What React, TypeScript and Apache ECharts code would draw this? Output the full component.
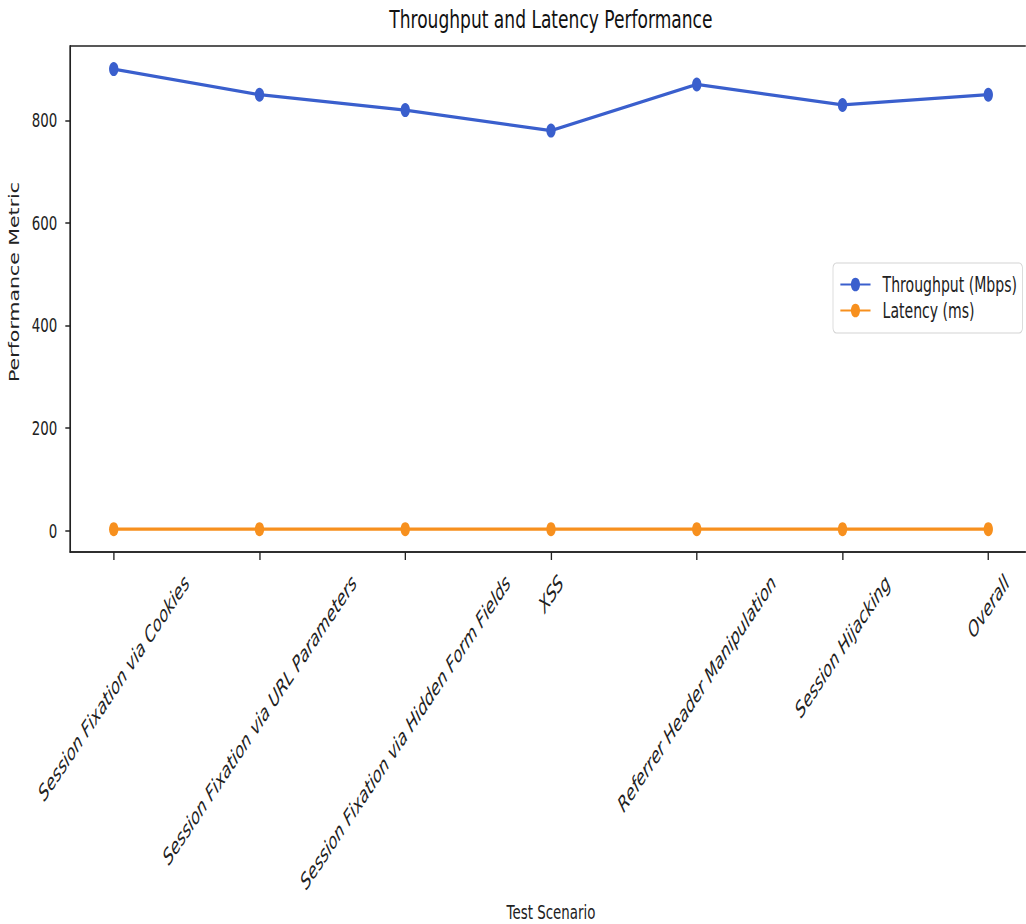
import React, { useEffect, useRef } from "react";
import * as echarts from "echarts";

// Test scenarios on the x axis
const scenarios = [
  "Session Fixation via Cookies",
  "Session Fixation via URL Parameters",
  "Session Fixation via Hidden Form Fields",
  "XSS",
  "Referrer Header Manipulation",
  "Session Hijacking",
  "Overall",
];
const throughputMbps = [900, 850, 820, 780, 870, 830, 850];
const latencyMs = [2.5, 2.5, 2.5, 2.5, 2.5, 2.5, 2.5];
const yTicks = [0, 200, 400, 600, 800];
const seriesNames = ["Throughput (Mbps)", "Latency (ms)"];

// The figure is drawn wide and squeezed horizontally into the viewport
const SQUEEZE = 0.67;
const VIEW_W = 1026;
const VIEW_H = 924;
const CHART_W = Math.round(VIEW_W / SQUEEZE);

const FONT = '"DejaVu Sans", Verdana, sans-serif';
const INK = "#222";
const BLUE = "#3a5fcd";
const ORANGE = "#f7901e";

function textWidth(text: string, font: string): number {
  const ctx = document.createElement("canvas").getContext("2d");
  if (!ctx) return text.length * 10;
  ctx.font = font;
  return ctx.measureText(text).width;
}

export default function App() {
  const ref = useRef<HTMLDivElement>(null);

  useEffect(() => {
    if (!ref.current) return;
    const chart = echarts.init(ref.current, null, { renderer: "svg" });

    const px = (x: number) => x / SQUEEZE;
    const plotLeft = px(70);
    const plotWidth = px(962);
    const plotCenter = plotLeft + plotWidth / 2;

    const titleText = "Throughput and Latency Performance";
    const titleSize = 25.5;
    const titleW = textWidth(titleText, `${titleSize}px "DejaVu Sans"`);

    const tickLabelSize = 20;
    const catLabelSize = 21.8;
    const catIdx = scenarios.map((_, i) => i);

    // Rotated labels are centred under their tick: shift each along and
    // across its own direction by a quarter of its length.
    const rich: Record<string, any> = {};
    scenarios.forEach((s, i) => {
      const L = textWidth(s, `italic ${catLabelSize}px "DejaVu Sans"`);
      rich["c" + i] = {
        fontSize: catLabelSize,
        fontStyle: "italic",
        fontFamily: FONT,
        color: INK,
        padding: [L / 2, L / 2, 0, 0],
      };
    });

    const lineSeries = (name: string, values: number[], color: string) => ({
      name,
      type: "line",
      data: values.map((v, i) => [i, v]),
      symbol: "circle",
      symbolSize: 14,
      lineStyle: { color, width: 3.3 },
      itemStyle: { color },
      emphasis: { disabled: true },
    });

    chart.setOption({
      animation: false,
      backgroundColor: "#fff",
      title: {
        text: titleText,
        left: plotCenter - titleW / 2,
        top: 6,
        padding: 0,
        textStyle: {
          fontSize: titleSize,
          fontWeight: "normal",
          fontFamily: FONT,
          color: "#111",
        },
      },
      legend: {
        data: seriesNames,
        orient: "vertical",
        left: px(833),
        top: 263,
        itemWidth: 45,
        itemHeight: 17,
        itemGap: 5,
        padding: [11, 8, 12, 10],
        borderColor: "#d4d4d4",
        borderWidth: 1.2,
        borderRadius: 5,
        backgroundColor: "rgba(255,255,255,0.85)",
        formatter: "{t|{name}}",
        textStyle: {
          fontSize: 21,
          fontFamily: FONT,
          color: INK,
          rich: {
            t: { fontSize: 21, fontFamily: FONT, color: INK, padding: [0, 0, 0, 13] },
          },
        },
      },
      grid: {
        left: plotLeft,
        top: 46,
        width: plotWidth,
        height: 506,
        show: true,
        borderColor: INK,
        borderWidth: 1.5,
        containLabel: false,
        outerBoundsMode: "none",
      },
      xAxis: {
        type: "value",
        min: -0.3,
        max: 6.3,
        name: "Test Scenario",
        nameLocation: "middle",
        nameGap: 350,
        nameTextStyle: { fontSize: 20, fontFamily: FONT, color: INK },
        axisLine: { show: true, onZero: false, lineStyle: { color: INK, width: 1.5 } },
        axisTick: {
          show: true,
          length: 8,
          customValues: catIdx,
          lineStyle: { color: INK, width: 2 },
        },
        axisLabel: {
          customValues: catIdx,
          rotate: 45,
          align: "center",
          verticalAlign: "middle",
          margin: 27,
          formatter: (v: number) => `{c${Math.round(v)}|${scenarios[Math.round(v)]}}`,
          rich,
        },
        splitLine: { show: false },
      },
      yAxis: {
        type: "value",
        min: -42,
        max: 945,
        name: "Performance Metric",
        nameLocation: "middle",
        nameGap: 72,
        nameTextStyle: {
          fontSize: 20.5,
          fontFamily: FONT,
          color: INK,
          padding: [0, 0, 0, 34],
        },
        axisLine: { show: true, onZero: false, lineStyle: { color: INK, width: 2 } },
        axisTick: {
          show: true,
          length: 7,
          customValues: yTicks,
          lineStyle: { color: INK, width: 1.5 },
        },
        axisLabel: {
          customValues: yTicks,
          margin: 19,
          fontSize: tickLabelSize,
          fontFamily: FONT,
          color: INK,
        },
        splitLine: { show: false },
      },
      series: [
        lineSeries(seriesNames[0], throughputMbps, BLUE),
        lineSeries(seriesNames[1], latencyMs, ORANGE),
      ],
    });

    return () => chart.dispose();
  }, []);

  return (
    <div
      style={{
        position: "fixed",
        left: 0,
        top: 0,
        width: VIEW_W,
        height: VIEW_H,
        overflow: "hidden",
        background: "#fff",
      }}
    >
      <div
        ref={ref}
        style={{
          width: CHART_W,
          height: VIEW_H,
          transform: `scaleX(${SQUEEZE})`,
          transformOrigin: "0 0",
        }}
      />
    </div>
  );
}
